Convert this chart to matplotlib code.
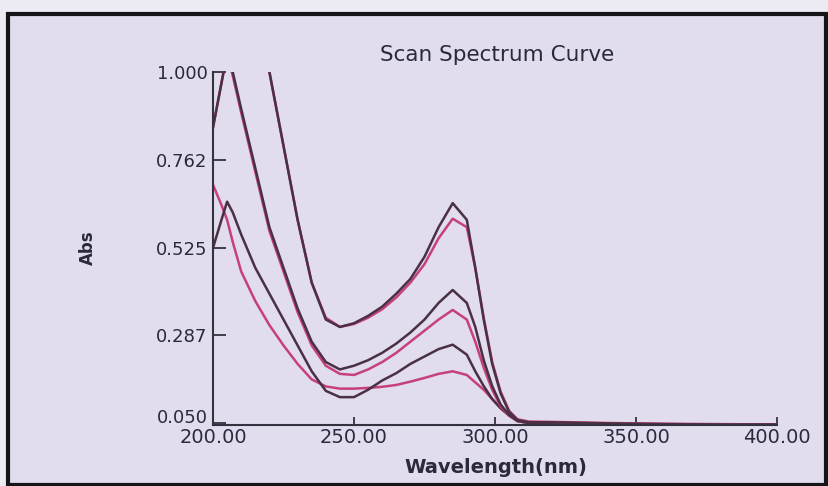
import matplotlib
matplotlib.use("Agg")
import matplotlib.pyplot as plt
from matplotlib.patches import Rectangle

# ---- data ----
wavelength = [200, 203, 205, 207, 210, 215, 220, 225, 230, 235, 240, 245, 250,
              255, 260, 265, 270, 275, 280, 285, 290, 293, 296, 299, 302, 305,
              308, 312, 320, 340, 360, 380, 400]

top_dark = [1.60, 1.60, 1.55, 1.45, 1.35, 1.15, 1.00, 0.80, 0.60, 0.43, 0.33, 0.31, 0.32,
            0.34, 0.365, 0.40, 0.44, 0.50, 0.58, 0.645, 0.60, 0.47, 0.33, 0.21, 0.13, 0.08,
            0.058, 0.052, 0.052, 0.049, 0.047, 0.046, 0.046]
top_pink = [1.60, 1.60, 1.55, 1.45, 1.35, 1.15, 1.00, 0.80, 0.60, 0.43, 0.335, 0.31, 0.318,
            0.335, 0.358, 0.39, 0.43, 0.48, 0.55, 0.603, 0.58, 0.47, 0.335, 0.215, 0.135, 0.083,
            0.06, 0.054, 0.053, 0.05, 0.048, 0.047, 0.046]
mid_dark = [0.85, 0.97, 1.05, 1.00, 0.90, 0.74, 0.58, 0.47, 0.36, 0.27, 0.215, 0.195, 0.205,
            0.22, 0.24, 0.265, 0.295, 0.33, 0.375, 0.41, 0.375, 0.31, 0.22, 0.15, 0.10, 0.072,
            0.056, 0.05, 0.049, 0.047, 0.046, 0.046, 0.046]
mid_pink = [0.85, 0.97, 1.05, 0.99, 0.89, 0.73, 0.57, 0.46, 0.35, 0.26, 0.205, 0.183, 0.18,
            0.195, 0.215, 0.24, 0.27, 0.30, 0.33, 0.356, 0.33, 0.27, 0.20, 0.14, 0.095, 0.07,
            0.055, 0.05, 0.049, 0.047, 0.046, 0.046, 0.046]
low_dark = [0.524, 0.60, 0.649, 0.62, 0.56, 0.47, 0.40, 0.33, 0.26, 0.19, 0.137, 0.12, 0.12,
            0.14, 0.165, 0.185, 0.21, 0.23, 0.25, 0.262, 0.235, 0.19, 0.15, 0.115, 0.09, 0.07,
            0.055, 0.05, 0.049, 0.047, 0.046, 0.046, 0.046]
low_pink = [0.695, 0.64, 0.60, 0.54, 0.46, 0.38, 0.315, 0.26, 0.21, 0.168, 0.149, 0.143, 0.143,
            0.145, 0.148, 0.153, 0.162, 0.172, 0.183, 0.19, 0.18, 0.16, 0.14, 0.115, 0.09, 0.072,
            0.058, 0.052, 0.05, 0.048, 0.047, 0.046, 0.046]

x_ticks = [200, 250, 300, 350, 400]
y_ticks = [0.050, 0.287, 0.525, 0.762, 1.000]

DARK = "#4a3044"
PINK = "#c6407d"
TEXT = "#2a2a3c"
BG = "#e1dcee"

fig = plt.figure(figsize=(8.29, 4.86), dpi=100, facecolor="#eceaf3")
frame = Rectangle((8 / 829, 1 / 486), 818 / 829, (485 - 14) / 486,
                  transform=fig.transFigure, facecolor=BG, edgecolor="#151518",
                  linewidth=3, zorder=-5)
fig.patches.append(frame)

ax = fig.add_axes([213 / 829, 1 - 425 / 486, (777 - 213) / 829, (425 - 72) / 486])
ax.set_facecolor("none")
ax.set_zorder(2)

series = [(low_pink, PINK), (low_dark, DARK), (mid_pink, PINK), (mid_dark, DARK),
          (top_pink, PINK), (top_dark, DARK)]
for vals, col in series:
    ax.plot(wavelength, vals, color=col, lw=1.8)

ax.set_xlim(200, 400)
ax.set_ylim(0.0446, 1.0)
ax.set_xticks(x_ticks)
ax.set_xticklabels([f"{v:.2f}" for v in x_ticks])
ax.set_yticks(y_ticks)
ax.set_yticklabels([f"{v:.3f}" for v in y_ticks])

for s in ["top", "right"]:
    ax.spines[s].set_visible(False)
for s in ["left", "bottom"]:
    ax.spines[s].set_color("#333340")
    ax.spines[s].set_linewidth(1.5)

ax.tick_params(axis="x", direction="in", length=6, width=1.3, color="#333340",
               pad=2, labelsize=14, labelcolor=TEXT)
ax.tick_params(axis="y", direction="in", length=9, width=1.3, color="#333340",
               pad=4, labelsize=13, labelcolor=TEXT)
ax.get_yticklabels()[0].set_va("baseline")

fig.text(497 / 829, 1 - 55 / 486, "Scan Spectrum Curve", ha="center", va="center",
         fontsize=15.5, color=TEXT)
fig.text(496 / 829, 1 - 467 / 486, "Wavelength(nm)", ha="center", va="center",
         fontsize=14, fontweight="bold", color=TEXT)
fig.text(88 / 829, 1 - 248 / 486, "Abs", ha="center", va="center", rotation=90,
         fontsize=12, fontweight="bold", color=TEXT)

fig.savefig("out.png", dpi=100, facecolor=fig.get_facecolor())
